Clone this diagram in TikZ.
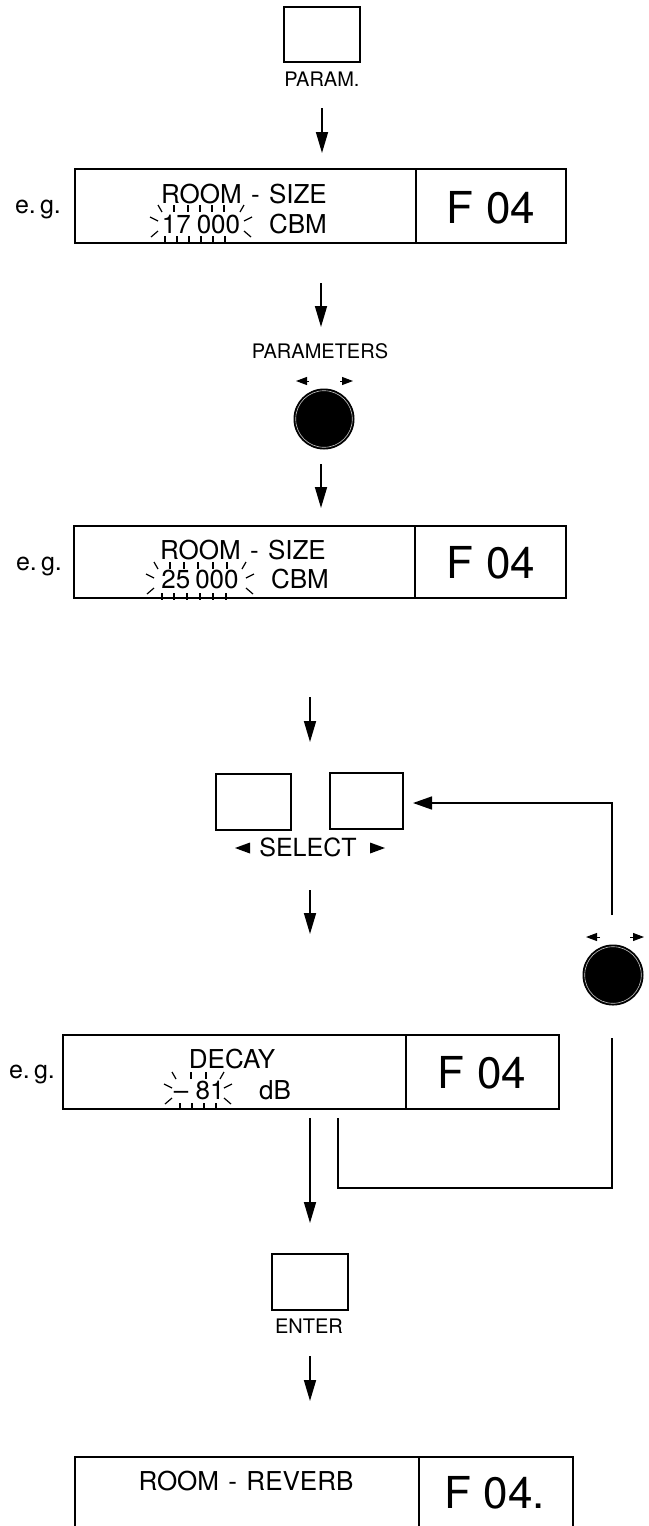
\documentclass[tikz,border=0pt]{standalone}
\usepackage{fontspec}
\setmainfont{TeX Gyre Heros}
\usetikzlibrary{arrows.meta}
\newcommand\fsz[1]{\fontsize{#1}{#1}\selectfont}
\tikzset{
  frame/.style={draw, line width=2pt, inner sep=0pt, outer sep=0pt, anchor=north west},
  btn/.style={draw, line width=1.8pt, inner sep=0pt, outer sep=0pt, anchor=north west},
  lbl/.style={inner sep=0pt, anchor=base},
  knob/.style={circle, fill=black, draw=black, line width=1pt, minimum size=60pt, inner sep=0pt},
  flow/.style={line width=1.7pt, -{Triangle[length=21pt, width=12pt]}},
  wire/.style={line width=1.5pt},
  spark/.style={line width=1.2pt},
  tiny/.style={line width=1pt, -{Triangle[length=11pt, width=8pt]}},
}
\newcommand\blink[5]{%
  \foreach \dx in {#4} \draw[spark] ({#1+\dx},{#2-18}) -- ({#1+\dx},{#2-11});
  \foreach \dx in {#5} \draw[spark] ({#1+\dx},{#2+13}) -- ({#1+\dx},{#2+20});
  \draw[spark] ({#1-#3-3},{#2-18}) -- ({#1-#3+1},{#2-11});
  \draw[spark] ({#1+#3+3},{#2-18}) -- ({#1+#3-1},{#2-11});
  \draw[spark] ({#1-#3-11},{#2-6}) -- ({#1-#3-3},{#2-2});
  \draw[spark] ({#1+#3+3},{#2-2}) -- ({#1+#3+11},{#2-6});
  \draw[spark] ({#1-#3-10},{#2+14}) -- ({#1-#3-3},{#2+8});
  \draw[spark] ({#1+#3+3},{#2+8}) -- ({#1+#3+10},{#2+14});
}
\begin{document}
\begin{tikzpicture}[x=1pt,y=-1pt]
\useasboundingbox (0,0) rectangle (648,1526);

% PARAM key
\node[btn, minimum width=76pt, minimum height=55pt] (param) at (284,7) {};
\node[lbl, font=\fsz{20}] (paramlbl) at (322,86) {PARAM.};
\coordinate (a1s) at (322,108); \coordinate (a1e) at (322,153);
\draw[flow] (a1s) -- (a1e);

% display 1
\node[frame, minimum width=341pt, minimum height=74pt] (d1l) at (75,169) {};
\node[frame, minimum width=150pt, minimum height=74pt] (d1r) at (416,169) {};
\node[lbl, font=\fsz{25}] (eg1) at (38,213) {e.\,g.};
\node[lbl, font=\fsz{26}] (d1t1) at (244,203) {ROOM\hspace{0.36em}-\hspace{0.36em}SIZE};
\node[lbl, font=\fsz{26}] (d1v) at (201,233) {17\kern6pt000};
\node[lbl, font=\fsz{26}] (d1u) at (298,233) {CBM};
\node[lbl, font=\fsz{44}] (d1f) at (491,223) {F 04};
\blink{201}{223}{40}{-27,-13,-1,11,23}{-36,-24,-12,0,12,24}

\coordinate (a2s) at (321,283); \coordinate (a2e) at (321,327);
\draw[flow] (a2s) -- (a2e);

% PARAMETERS knob
\node[lbl, font=\fsz{20}] (parlbl) at (320,358) {PARAMETERS};
\draw[tiny] (309,381) -- (296,381);
\draw[tiny] (340,381) -- (353,381);
\node[knob] (k1) at (324,419) {};
\draw[gray!45, line width=0.6pt] (k1.center) circle (28.3);

\coordinate (a3s) at (321,464); \coordinate (a3e) at (321,508);
\draw[flow] (a3s) -- (a3e);

% display 2
\node[frame, minimum width=341pt, minimum height=72pt] (d2l) at (74,526) {};
\node[frame, minimum width=151pt, minimum height=72pt] (d2r) at (415,526) {};
\node[lbl, font=\fsz{25}] (eg2) at (39,570) {e.\,g.};
\node[lbl, font=\fsz{26}] (d2t1) at (243,559) {ROOM\hspace{0.36em}-\hspace{0.36em}SIZE};
\node[lbl, font=\fsz{26}] (d2v) at (200,588) {25\kern5pt000};
\node[lbl, font=\fsz{26}] (d2u) at (300,588) {CBM};
\node[lbl, font=\fsz{44}] (d2f) at (491,578) {F 04};
\blink{200}{580}{43}{-30,-16,-2,13,27}{-38,-26,-13,0,13,26}

\coordinate (a4s) at (310,697); \coordinate (a4e) at (310,742);
\draw[flow] (a4s) -- (a4e);

% SELECT keys
\node[btn, minimum width=75pt, minimum height=56pt] (selL) at (216,774) {};
\node[btn, minimum width=73pt, minimum height=56pt] (selR) at (330,773) {};
\node[lbl, font=\fsz{25}] (sellbl) at (308,856) {SELECT};
\fill (235,848) -- (250,842.5) -- (250,853.5) -- cycle;
\fill (385,848) -- (370,842.5) -- (370,853.5) -- cycle;

% feedback loop
\coordinate (fbA) at (612,915);
\coordinate (fbB) at (612,803);
\coordinate (fbTip) at (413,803);
\draw[wire, -{Triangle[length=19pt, width=13pt]}] (fbA) -- (fbB) -- (fbTip);

\draw[tiny] (600,937) -- (586,937);
\draw[tiny] (630,937) -- (644,937);
\node[knob] (k2) at (613,975) {};
\draw[gray!45, line width=0.6pt] (k2.center) circle (28.3);

\coordinate (lbA) at (612,1038);
\coordinate (lbB) at (612,1188);
\coordinate (lbC) at (338,1188);
\coordinate (lbD) at (338,1118);
\draw[wire] (lbA) -- (lbB) -- (lbC) -- (lbD);

\coordinate (a5s) at (310,890); \coordinate (a5e) at (310,934);
\draw[flow] (a5s) -- (a5e);

% display 3
\node[frame, minimum width=343pt, minimum height=74pt] (d3l) at (63,1035) {};
\node[frame, minimum width=153pt, minimum height=74pt] (d3r) at (406,1035) {};
\node[lbl, font=\fsz{25}] (eg3) at (32,1078) {e.\,g.};
\node[lbl, font=\fsz{26}] (d3t1) at (232,1068) {DECAY};
\node[lbl, font=\fsz{26}] (d3m) at (181,1099) {–};
\node[lbl, font=\fsz{26}] (d3v) at (210,1099) {81};
\node[lbl, font=\fsz{26}] (d3u) at (275,1099) {dB};
\node[lbl, font=\fsz{44}] (d3f) at (482,1088) {F 04};
\blink{198}{1090}{23}{-7,8}{-18,-6,6,18}

\coordinate (a6s) at (310,1118); \coordinate (a6e) at (310,1223);
\draw[flow] (a6s) -- (a6e);

% ENTER key
\node[btn, minimum width=76pt, minimum height=56pt] (enter) at (272,1254) {};
\node[lbl, font=\fsz{20}] (entlbl) at (309,1333) {ENTER};

\coordinate (a7s) at (310,1356); \coordinate (a7e) at (310,1401);
\draw[flow] (a7s) -- (a7e);

% display 4
\node[frame, minimum width=344pt, minimum height=100pt] (d4l) at (75,1457) {};
\node[frame, minimum width=154pt, minimum height=100pt] (d4r) at (419,1457) {};
\node[lbl, font=\fsz{26}] (d4t1) at (246,1490) {ROOM\hspace{0.36em}-\hspace{0.36em}REVERB};
\node[lbl, font=\fsz{44}] (d4f) at (495,1508) {F 04.};
\end{tikzpicture}
\end{document}
